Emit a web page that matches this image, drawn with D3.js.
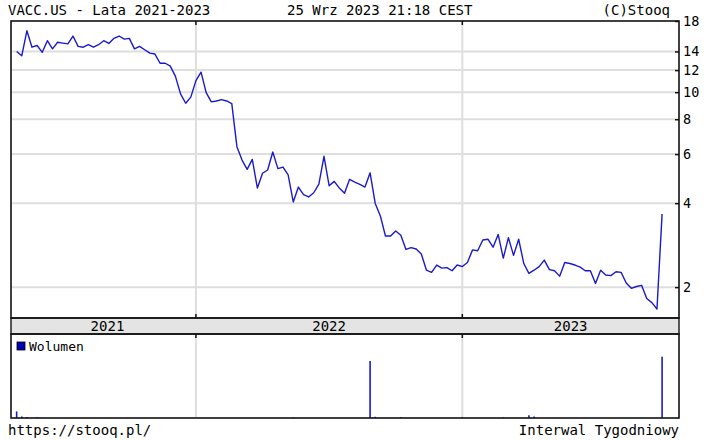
<!DOCTYPE html>
<html><head><meta charset="utf-8">
<script src="https://cdn.jsdelivr.net/npm/d3@7"></script>
<style>body{margin:0;background:#fff}svg{display:block}text{font-family:"DejaVu Sans Mono",monospace;fill:#000}</style>
</head><body><div id="chart"></div>
<script>
// weekly closes, VACC.US (first week starting 2021-04-26)
const closes = [14.0,13.5,16.6,14.5,14.7,13.9,15.3,14.3,15.1,15.0,14.9,15.9,14.6,14.5,14.8,14.5,14.8,15.3,14.95,15.6,
15.9,15.5,15.6,14.3,14.6,14.2,13.8,13.7,12.7,12.7,12.4,11.4,9.86,9.13,9.6,11.0,11.8,9.97,9.23,9.3,
9.4,9.3,9.1,6.38,5.71,5.29,5.74,4.53,5.12,5.26,6.10,5.32,5.39,5.05,4.04,4.57,4.29,4.21,4.36,4.68,
5.89,4.62,4.79,4.53,4.34,4.87,4.76,4.67,4.57,5.14,3.99,3.60,3.05,3.05,3.18,3.07,2.73,2.77,2.74,2.63,
2.30,2.26,2.40,2.34,2.35,2.29,2.40,2.37,2.45,2.72,2.70,2.95,2.97,2.78,3.09,2.54,3.01,2.60,2.97,2.43,
2.24,2.30,2.37,2.50,2.31,2.29,2.19,2.45,2.43,2.40,2.36,2.29,2.29,2.06,2.30,2.21,2.20,2.27,2.26,2.07,
1.98,2.01,2.03,1.82,1.76,1.67,3.66];
// volume (non-zero weeks only; week index -> volume)
const volIndex = [0, 1, 2, 4, 54, 69, 70, 75, 87, 95, 100, 101, 126];
const volValue = [110, 25, 15, 12, 12, 950, 20, 12, 12, 10, 45, 25, 1020];
const yearLabels = ["2021", "2022", "2023"];
const priceTicks = [2, 4, 6, 8, 10, 12, 14, 18];
const firstWeek = new Date(2021, 4, 2); // week ending Sunday
const weeks = closes.map((_, i) => d3.timeDay.offset(firstWeek, 7 * i));

const W = 705, H = 440;
const L = 11, R = 679, T = 21, B = 318, BandB = 334, VB = 418;
const blue = "#1a1acc", grid = "#dedede";

const svg = d3.select("#chart").append("svg").attr("width", W).attr("height", H);
svg.append("rect").attr("width", W).attr("height", H).attr("fill", "#fff");

const x = d3.scaleLinear().domain([-1.1, 129.3]).range([L, R]);
const y = d3.scaleLog().domain([1.55, 18]).range([B, T]);
const vy = d3.scaleLinear().domain([0, 1400]).range([VB, BandB]);

// year boundaries: first week of each new year
const bounds = [];
weeks.forEach((d, i) => { if (i > 0 && d.getFullYear() !== weeks[i - 1].getFullYear()) bounds.push(i); });
const bx = bounds.map(i => x(i));

// grid
svg.append("g").selectAll("line").data(priceTicks.filter(t => t < 18)).join("line")
  .attr("x1", L).attr("x2", R).attr("y1", d => y(d)).attr("y2", d => y(d))
  .attr("stroke", grid).attr("stroke-width", 2);
svg.append("g").selectAll("line").data(bx).join("line")
  .attr("x1", d => d).attr("x2", d => d).attr("y1", T).attr("y2", B)
  .attr("stroke", grid).attr("stroke-width", 2);
svg.append("g").selectAll("line").data(bx).join("line")
  .attr("x1", d => d).attr("x2", d => d).attr("y1", BandB).attr("y2", VB)
  .attr("stroke", grid).attr("stroke-width", 2);

// price line
svg.append("path").datum(closes)
  .attr("d", d3.line().x((d, i) => x(i)).y(d => y(d)))
  .attr("fill", "none").attr("stroke", blue).attr("stroke-width", 1.4).attr("stroke-linejoin", "round");

// volume bars
svg.append("g").selectAll("line").data(volIndex).join("line")
  .attr("x1", d => x(d)).attr("x2", d => x(d))
  .attr("y1", VB).attr("y2", (d, k) => vy(volValue[k]))
  .attr("stroke", blue).attr("stroke-width", 1.6);

// year band
svg.append("rect").attr("x", L).attr("y", B).attr("width", R - L).attr("height", BandB - B)
  .attr("fill", "#e4e4e4").attr("stroke", "#222").attr("stroke-width", 1.5);
const edges = [L + 8, ...bx, R];
svg.append("g").selectAll("text").data(yearLabels).join("text")
  .attr("x", (d, i) => (edges[i] + edges[i + 1]) / 2).attr("y", B + 12.5)
  .attr("text-anchor", "middle").attr("font-size", 14).text(d => d);

// frames
svg.append("rect").attr("x", L).attr("y", T).attr("width", R - L).attr("height", B - T)
  .attr("fill", "none").attr("stroke", "#111").attr("stroke-width", 1.6);
svg.append("rect").attr("x", L).attr("y", BandB).attr("width", R - L).attr("height", VB - BandB)
  .attr("fill", "none").attr("stroke", "#111").attr("stroke-width", 1.6);

// boundary ticks
const tk = svg.append("g").attr("stroke", "#111").attr("stroke-width", 1.5);
bx.forEach(v => {
  tk.append("line").attr("x1", v).attr("x2", v).attr("y1", T).attr("y2", T + 4);
  tk.append("line").attr("x1", v).attr("x2", v).attr("y1", B - 4).attr("y2", B);
  tk.append("line").attr("x1", v).attr("x2", v).attr("y1", BandB).attr("y2", BandB + 4);
});

// right axis
const ax = svg.append("g").attr("transform", `translate(${R},0)`)
  .call(d3.axisRight(y).tickValues(priceTicks).tickFormat(d3.format("d")).tickSizeInner(-4).tickSizeOuter(0).tickPadding(4));
ax.select(".domain").remove();
ax.selectAll(".tick line").attr("stroke", "#111").attr("stroke-width", 1.5);
ax.selectAll(".tick text").attr("font-size", 13.5).attr("font-family", "DejaVu Sans Mono").attr("fill", "#000");

// legend
svg.append("rect").attr("x", 17).attr("y", 342).attr("width", 8).attr("height", 8)
  .attr("fill", "#0000b0").attr("stroke", "#000").attr("stroke-width", 0.8);
svg.append("text").attr("x", 29).attr("y", 351).attr("font-size", 13).text("Wolumen");

// header / footer
svg.append("text").attr("x", 8).attr("y", 15).attr("font-size", 14).text("VACC.US - Lata 2021-2023");
svg.append("text").attr("x", 287).attr("y", 15).attr("font-size", 14).text("25 Wrz 2023 21:18 CEST");
svg.append("text").attr("x", 670).attr("y", 15).attr("text-anchor", "end").attr("font-size", 14).text("(C)Stooq");
svg.append("text").attr("x", 8).attr("y", 435).attr("font-size", 14).text("https://stooq.pl/");
svg.append("text").attr("x", 679).attr("y", 435).attr("text-anchor", "end").attr("font-size", 14).text("Interwal Tygodniowy");
</script></body></html>
